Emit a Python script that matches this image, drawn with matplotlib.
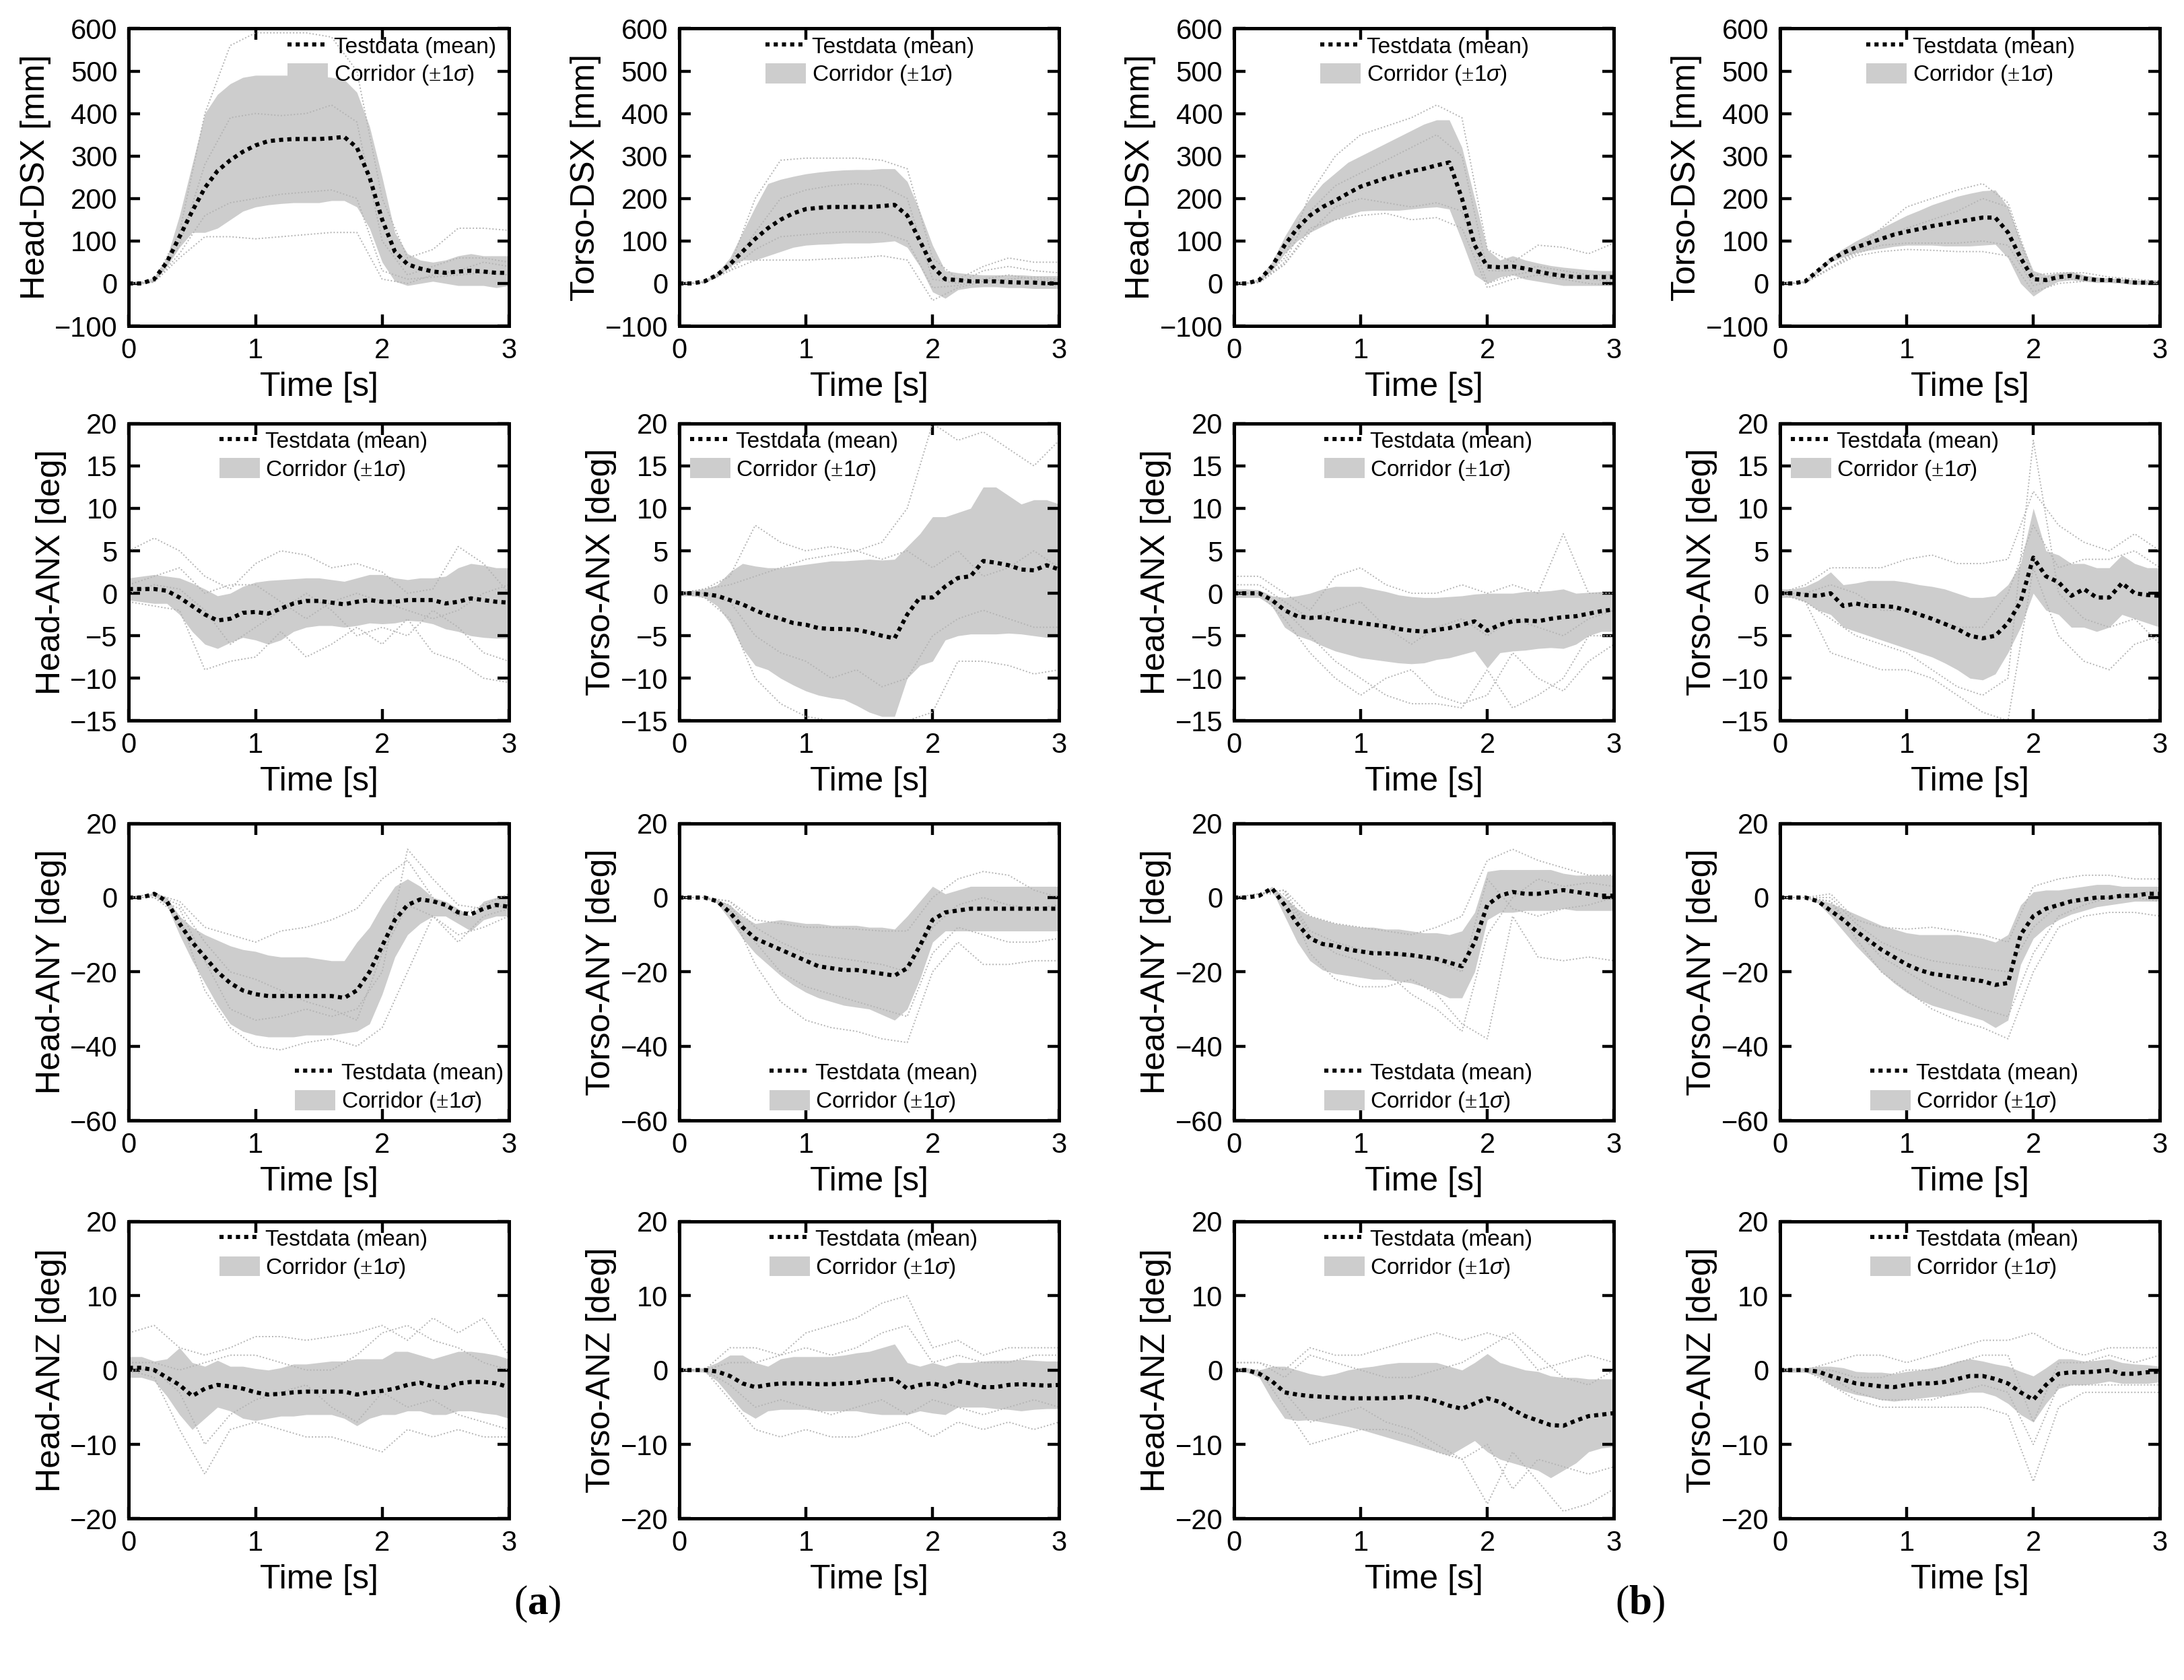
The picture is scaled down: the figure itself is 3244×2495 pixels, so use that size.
import numpy as np
import matplotlib
matplotlib.use('Agg')
import matplotlib.pyplot as plt
from matplotlib.lines import Line2D
from matplotlib.patches import Patch

plt.rcParams['font.family'] = ['Liberation Sans', 'DejaVu Sans']
plt.rcParams['mathtext.fontset'] = 'custom'
plt.rcParams['mathtext.rm'] = 'Liberation Serif'
plt.rcParams['mathtext.bf'] = 'Liberation Serif:bold'
plt.rcParams['mathtext.it'] = 'Liberation Sans:italic'

# time grids (s)
t = np.round(np.arange(0, 3.01, 0.1), 2)      # corridor / mean
t_run = np.round(np.arange(0, 3.01, 0.2), 2)  # single test runs

# ---------------- (a) Head-DSX [mm] ----------------
a_head_dsx_mean = [0, 0, 10, 50, 110, 170, 225, 265, 290, 310, 325, 335, 338, 340, 340, 340,
                   342, 345, 320, 250, 150, 75, 45, 35, 28, 25, 28, 30, 28, 25, 25]
a_head_dsx_hi = [0, 2, 15, 60, 160, 280, 400, 445, 470, 485, 490, 490, 490, 490, 490, 488,
                 485, 480, 450, 370, 250, 120, 70, 55, 50, 55, 65, 70, 65, 65, 65]
a_head_dsx_lo = [0, -2, 5, 40, 85, 120, 120, 130, 150, 170, 180, 185, 188, 190, 190, 190,
                 195, 195, 180, 130, 50, 5, -5, 0, 5, 0, -5, -5, -5, -10, -5]
a_head_dsx_runs = [[0, 5, 120, 400, 560, 590, 590, 590, 580, 500, 200, 60, 80, 130, 130, 125],
                   [0, 3, 60, 110, 110, 105, 110, 115, 120, 120, 10, 0, 20, 30, 50, 40],
                   [0, 4, 90, 280, 390, 400, 395, 400, 420, 380, 100, 20, 40, 60, 60, 50],
                   [0, 3, 70, 160, 190, 200, 210, 215, 220, 200, 30, 10, 15, 20, 25, 20]]

# ---------------- (a) Torso-DSX [mm] ----------------
a_torso_dsx_mean = [0, 0, 5, 20, 45, 75, 105, 130, 150, 165, 175, 178, 180, 180, 180, 180,
                    182, 185, 160, 100, 40, 10, 8, 5, 5, 5, 3, 2, 2, 0, 0]
a_torso_dsx_hi = [0, 1, 8, 25, 60, 120, 180, 235, 245, 252, 258, 262, 265, 267, 268, 268,
                  270, 270, 240, 170, 90, 30, 25, 22, 20, 20, 20, 20, 18, 18, 18]
a_torso_dsx_lo = [0, -1, 3, 15, 40, 55, 55, 65, 75, 85, 90, 92, 93, 95, 95, 95,
                  97, 100, 85, 40, -20, -35, -15, -10, -8, -8, -10, -10, -12, -12, -12]
a_torso_dsx_runs = [[0, 3, 40, 200, 290, 295, 295, 295, 290, 270, 60, 10, 40, 60, 50, 50],
                    [0, 2, 30, 55, 55, 55, 58, 60, 65, 55, -40, -10, 5, 10, 15, 10],
                    [0, 2, 35, 120, 200, 220, 230, 235, 230, 200, 10, 0, 30, 40, 30, 25],
                    [0, 2, 30, 80, 110, 115, 120, 122, 120, 100, -10, -5, 10, 20, 10, 5]]

# ---------------- (b) Head-DSX [mm] ----------------
b_head_dsx_mean = [0, 0, 8, 40, 90, 130, 160, 180, 195, 212, 228, 238, 248, 256, 264, 270,
                   278, 285, 200, 90, 40, 38, 40, 35, 28, 22, 18, 15, 15, 15, 15]
b_head_dsx_hi = [0, 1, 12, 50, 110, 160, 200, 235, 260, 285, 300, 315, 330, 345, 360, 375,
                 385, 385, 320, 200, 80, 55, 65, 55, 48, 42, 38, 35, 32, 30, 30]
b_head_dsx_lo = [0, -1, 5, 30, 70, 100, 120, 135, 150, 160, 170, 172, 172, 172, 175, 178,
                 180, 175, 100, 20, 0, 15, 20, 10, 5, 0, -5, -5, -5, -5, -5]
b_head_dsx_runs = [[0, 3, 60, 210, 300, 350, 370, 390, 420, 390, 80, 50, 90, 85, 70, 95],
                   [0, 2, 45, 130, 150, 160, 165, 150, 155, 130, -10, 10, 20, 10, 0, -5],
                   [0, 3, 50, 170, 230, 260, 290, 320, 350, 300, 30, 30, 40, 30, 20, 20],
                   [0, 2, 45, 120, 180, 200, 190, 180, 190, 170, 0, 20, 30, 20, 10, 5]]

# ---------------- (b) Torso-DSX [mm] ----------------
b_torso_dsx_mean = [0, 0, 5, 30, 55, 72, 85, 95, 105, 115, 122, 128, 135, 140, 145, 150,
                    155, 155, 120, 60, 10, 8, 15, 18, 12, 8, 8, 6, 2, 2, 2]
b_torso_dsx_hi = [0, 1, 8, 35, 62, 82, 100, 115, 130, 145, 160, 172, 185, 195, 205, 212,
                  218, 220, 180, 100, 30, 20, 25, 28, 20, 15, 12, 10, 8, 6, 6]
b_torso_dsx_lo = [0, -1, 3, 25, 50, 62, 72, 78, 82, 87, 90, 90, 90, 88, 88, 88,
                  90, 92, 60, 0, -30, -10, 5, 8, 5, 2, 2, 0, -3, -3, -3]
b_torso_dsx_runs = [[0, 2, 35, 80, 130, 180, 200, 220, 235, 190, 20, 25, 25, 15, 10, 5],
                    [0, 2, 35, 65, 75, 80, 78, 75, 75, 65, -20, 0, 5, 10, 5, 0],
                    [0, 2, 38, 75, 105, 130, 150, 170, 200, 180, 10, 20, 15, 10, 5, 5],
                    [0, 2, 36, 70, 90, 95, 95, 95, 100, 90, -5, 10, 10, 5, 0, 0]]

# ---------------- (a) Head-ANX [deg] ----------------
a_head_anx_mean = [0.5, 0.5, 0.5, 0.3, -0.5, -1.5, -2.5, -3.2, -3.0, -2.3, -2.2, -2.4, -1.8,
                   -1.2, -0.9, -0.9, -1.1, -1.3, -1.0, -0.8, -1.0, -1.0, -0.8, -0.8, -0.8,
                   -1.2, -1.0, -0.6, -0.8, -1.0, -1.1]
a_head_anx_hi = [1.8, 2.0, 2.2, 2.0, 1.8, 1.2, 0.5, -0.3, 0.0, 0.8, 1.3, 1.5, 1.6, 1.7, 1.8,
                 1.8, 1.6, 1.4, 1.8, 2.2, 2.2, 1.8, 1.6, 1.8, 1.8, 2.0, 3.0, 3.5, 3.3, 3.0, 3.0]
a_head_anx_lo = [-0.8, -1.0, -1.2, -1.2, -2.5, -4.5, -6.0, -6.5, -5.8, -5.2, -5.5, -6.0, -5.5,
                 -4.5, -4.0, -3.8, -3.8, -4.0, -3.8, -3.5, -3.6, -3.5, -3.2, -3.3, -3.6,
                 -4.2, -4.5, -5.0, -5.2, -5.3, -5.3]
a_head_anx_runs = [[5, 6.5, 5.0, 2.0, 0.5, 3.5, 5.0, 4.5, 3.0, 3.5, 2.5, 0.0, 0.5, 5.5, 3.5, 0.0],
                   [-1, -1.5, -2, -9, -8, -7.5, -4.5, -7.5, -6, -4, -6, -3, -7, -8, -10, -10.5],
                   [0, 1, 0.5, -2, -6, -4, -2, 0, -2, -5, -4, -5, -2, -4, -7, -8],
                   [1, 2, 3, 0, 1, 1, -1, -3, -1, 0, -1, -2, -3, -2, 0, 1]]

# ---------------- (a) Torso-ANX [deg] ----------------
a_torso_anx_mean = [0, 0, -0.1, -0.3, -0.8, -1.3, -2.0, -2.6, -3.0, -3.5, -3.7, -4.1, -4.2,
                    -4.2, -4.3, -4.6, -5.0, -5.3, -2.5, -0.5, -0.5, 0.8, 1.8, 2.0, 3.8, 3.6,
                    3.3, 2.8, 2.7, 3.3, 2.8]
a_torso_anx_hi = [0.3, 0.3, 0.5, 1.0, 2.5, 3.5, 3.2, 3.0, 3.0, 3.2, 3.4, 3.6, 3.8, 3.8, 3.9,
                  4.0, 3.9, 4.0, 5.5, 7.0, 9.0, 9.0, 9.5, 10, 12.5, 12.5, 11.5, 10.5, 11.0,
                  11.0, 10.5]
a_torso_anx_lo = [-0.3, -0.3, -0.5, -1.5, -3.5, -6.5, -8.5, -9.0, -10.0, -10.8, -11.5, -12.0,
                  -12.3, -12.5, -13.2, -14.0, -14.5, -14.5, -10.0, -8.5, -8.0, -5.5, -5.0,
                  -4.8, -4.8, -4.8, -4.7, -4.8, -5.0, -5.2, -5.2]
a_torso_anx_runs = [[0, 0.5, 2, 8, 6, 5, 5.5, 5, 6, 10, 20, 18, 19, 17, 15, 18],
                    [0, -0.5, -3, -10, -13, -14.5, -15, -15, -16, -15, -14, -8, -8, -8.5, -9.5, -9],
                    [0, 0, -1, -5, -7, -8, -10, -9, -11, -10, -5, -3, -2, -3, -4, -4],
                    [0, 0.5, 1, 2, 3, 4, 4.5, 5, 4, 5, 3, 5, 2, 3, 5, 3]]

# ---------------- (b) Head-ANX [deg] ----------------
b_head_anx_mean = [0, 0, 0, -0.8, -2.0, -2.7, -2.9, -2.8, -3.1, -3.3, -3.5, -3.7, -3.9, -4.2,
                   -4.4, -4.5, -4.3, -4.1, -3.7, -3.3, -4.4, -3.7, -3.3, -3.2, -3.3, -3.0,
                   -2.8, -2.7, -2.4, -2.1, -1.9]
b_head_anx_hi = [0.5, 0.5, 0.4, -0.3, -0.5, -0.3, 0.0, 0.5, 0.8, 0.8, 0.8, 0.5, 0.2, -0.2,
                 -0.4, -0.5, -0.5, -0.4, -0.3, -0.1, 0.0, 0.0, 0.0, 0.2, 0.2, 0.3, 0.5, 0.0,
                 0.1, 0.2, 0.0]
b_head_anx_lo = [-0.5, -0.5, -0.5, -1.5, -4.0, -5.0, -5.5, -6.2, -6.8, -7.2, -7.6, -7.8, -8.0,
                 -8.2, -8.3, -8.2, -7.8, -7.6, -7.2, -6.8, -8.8, -7.0, -6.8, -6.7, -6.5,
                 -6.4, -6.5, -6.0, -5.0, -4.5, -4.5]
b_head_anx_runs = [[2, 2, 0, -2, 2, 3, 1, 0, 0, 1, 0, 1, 0, 7, 0, 0],
                   [0, 0, -3, -7, -10, -12, -10, -9, -12, -13, -12, -7, -10, -11.5, -8, -6],
                   [0, 0, -2, -5, -8, -10, -12, -13, -13, -13.5, -9, -13.5, -12, -10, -5, -5],
                   [1, 1, -1, -3, -2, -1, -4, -6, -4, -3, -5, -3, -4, -5, -3, -2]]

# ---------------- (b) Torso-ANX [deg] ----------------
b_torso_anx_mean = [0, 0, -0.2, -0.3, 0.0, -1.5, -1.2, -1.5, -1.5, -1.6, -2.0, -2.5, -3.0,
                    -3.6, -4.2, -5.0, -5.3, -5.0, -3.5, -1.0, 4.2, 2.0, 1.3, -0.3, 0.5, -0.5,
                    -0.5, 1.2, 0.0, -0.2, -0.3]
b_torso_anx_hi = [0.5, 0.5, 0.8, 1.5, 2.5, 1.0, 1.2, 1.5, 1.5, 1.5, 1.3, 1.0, 0.8, 0.5, 0.0,
                  -0.5, -0.5, -0.3, 1.0, 3.5, 10.0, 5.0, 4.5, 3.5, 3.5, 3.0, 3.0, 4.5, 3.5,
                  3.0, 3.0]
b_torso_anx_lo = [-0.5, -0.5, -1.0, -2.0, -2.5, -4.0, -4.5, -5.0, -5.5, -6.0, -6.5, -7.0,
                  -7.5, -8.2, -9.0, -10.0, -10.2, -9.5, -7.0, -4.0, 0.0, -2.0, -2.5, -4.0,
                  -4.0, -4.5, -4.0, -2.5, -3.0, -3.5, -4.0]
b_torso_anx_runs = [[0, 1, 3, 3, 3, 4, 4.5, 3.5, 3.5, 4, 12, 8, 6, 5, 7, 5],
                    [0, -1, -7, -8, -9, -9, -10, -12, -14, -15, 3, -5, -8, -9, -6, -5],
                    [0, -1, -3, -5, -6, -7, -9, -11, -12, -10, 18, 0, -3, -4, -3, -6],
                    [0, 0, 1, 0, -2, -2, -3, -4, -4, 0, 8, 3, 4, 4, 5, 3]]

# ---------------- (a) Head-ANY [deg] ----------------
a_head_any_mean = [0, 0, 1.0, -1, -7, -12, -16, -20, -23, -25, -26, -26.5, -26.5, -26.5,
                   -26.5, -26.5, -26.5, -27, -25, -20, -13, -6, -2, -0.5, -1, -2, -4, -4.5,
                   -3, -2, -2.5]
a_head_any_hi = [0, 0, 1.5, 0, -5, -8, -10, -11.5, -13, -14, -14.5, -15.5, -16, -16, -16,
                 -16.5, -17, -17, -12, -8, -2, 3, 5, 3, 0, -1, -3, -5, -1, 0, 0]
a_head_any_lo = [0, 0, 0.5, -2, -10, -17, -23, -29, -34, -36, -37, -37.5, -37.5, -37.5, -37,
                 -37, -37, -36.5, -36, -34, -26, -16, -10, -7, -5, -5, -7, -9, -6, -5, -5]
a_head_any_runs = [[0, 1, -1, -8, -10, -12, -9, -8, -6, -3, 5, 10, 0, -5, -2, 1],
                   [0, 0, -5, -25, -35, -40, -41, -39, -38, -40, -35, -20, -5, -10, -8, -5],
                   [0, 0, -3, -17, -30, -33, -32, -30, -32, -30, -20, 13, 5, -2, -3, -2],
                   [0, 1, -2, -12, -20, -22, -25, -28, -30, -33, -15, -2, -5, -12, -5, -3]]

# ---------------- (a) Torso-ANY [deg] ----------------
a_torso_any_mean = [0, 0, 0, -1, -4, -8, -11, -12.5, -14, -15.5, -17, -18.5, -19, -19.5,
                    -19.5, -20, -20.5, -21, -19, -13, -6, -4, -3.5, -3, -3, -3, -3, -3, -3,
                    -3, -3]
a_torso_any_hi = [0, 0, 0, -0.5, -2, -5, -7, -6.5, -6, -6.5, -7, -7, -7.5, -7.5, -7.5, -8,
                  -8, -8.5, -5, -1, 3, 1, 2, 3, 3, 3, 3, 3, 3, 3, 3]
a_torso_any_lo = [0, 0, 0, -1.5, -6, -11, -15, -18, -21, -23.5, -25.5, -27, -28, -29, -29.5,
                  -30, -31.5, -33, -30, -22, -12, -9, -9, -9, -9, -9, -9, -9, -9, -9, -9]
a_torso_any_runs = [[0, 0, -1, -6, -7, -8, -8, -8.5, -9, -9, 0, 5, 7, 6, 2, 0],
                    [0, 0, -3, -18, -28, -33, -35, -36, -38, -39, -20, -12, -18, -18, -17, -17],
                    [0, 0, -2, -12, -20, -24, -26, -28, -30, -32, -15, -8, -10, -12, -12, -11],
                    [0, 0, -1, -8, -12, -15, -16, -17, -18, -20, -8, -2, 0, -2, -3, -2]]

# ---------------- (b) Head-ANY [deg] ----------------
b_head_any_mean = [0, 0, 0.5, 2.5, -2, -7, -11, -12.5, -13, -14, -14.5, -15, -15, -15.2,
                   -15.5, -16, -16.5, -17.5, -18.5, -12, -2, 0.5, 1.5, 1.0, 1.0, 1.5, 2.0,
                   1.5, 1.0, 0.5, 0.5]
b_head_any_hi = [0, 0, 0.5, 3, 0, -3, -5, -6, -7, -7.5, -8, -8, -8.5, -8.5, -9, -9.5, -9.5,
                 -10, -9, -4, 7, 7.5, 7.5, 7.5, 7.5, 7.5, 6.5, 6, 6, 6, 6]
b_head_any_lo = [0, 0, 0.5, 2, -5, -12, -17, -19.5, -20.5, -21, -21.5, -22, -22, -22.5, -23,
                 -24, -25.5, -27, -27, -20, -6, -4, -4, -3.5, -3.5, -3.5, -3, -3.5, -3.5,
                 -3.5, -3.5]
b_head_any_runs = [[0, 1, 2, -5, -7, -8, -9, -10, -8, -5, 10, 13, 10, 8, 6, 6],
                   [0, 1, 2, -15, -22, -24, -24, -22, -26, -34, -38, -5, -16, -17, -16, -17],
                   [0, 1, 1, -10, -15, -17, -20, -26, -30, -36, -10, 0, 5, 3, 4, 3],
                   [0, 1, 2, -9, -12, -14, -15, -16, -17, -20, 5, -3, -5, -3, -2, 0]]

# ---------------- (b) Torso-ANY [deg] ----------------
b_torso_any_mean = [0, 0, 0, -1, -3.5, -6, -9, -11.5, -14, -16, -18, -19.5, -20.5, -21,
                    -21.5, -22, -22.5, -23.5, -23, -10, -5, -3, -2, -1, -0.5, 0, 0, 0.5, 0.5,
                    1, 1]
b_torso_any_hi = [0, 0, 0, -0.5, -1.5, -3, -4.5, -6, -7.5, -8.5, -9.5, -10, -10, -10, -10,
                  -10.5, -11, -12, -10, -2, 1.5, 2, 2, 2.5, 3, 3.5, 3.5, 3, 3, 3, 3]
b_torso_any_lo = [0, 0, 0, -1.5, -5, -9, -13, -16.5, -20, -23, -25.5, -27.5, -29, -30, -31,
                  -32, -33, -35, -33, -18, -11, -8, -6, -4.5, -3.5, -2.5, -2, -1.5, -1, -1, -1]
b_torso_any_runs = [[0, 0, 1, -6, -8, -8.5, -8, -9, -10, -12, 3, 5, 6, 6, 5, 5],
                    [0, 0, -1, -11, -20, -25, -30, -33, -35, -38, -20, -8, -5, -4, -4, -5],
                    [0, 0, -1, -9, -16, -20, -24, -27, -30, -32, -15, -5, -2, 0, 1, 2],
                    [0, 0, 0, -7, -12, -15, -17, -18, -19, -20, -8, -2, -1, 0, 0, -1]]

# ---------------- (a) Head-ANZ [deg] ----------------
a_head_anz_mean = [0.3, 0.3, 0, -1.0, -2.0, -3.5, -2.5, -2.0, -2.2, -2.5, -3.0, -3.3, -3.2,
                   -3.0, -2.9, -2.9, -2.9, -2.9, -3.3, -3.0, -2.8, -2.5, -2.0, -1.7, -2.2,
                   -2.4, -1.8, -1.6, -1.6, -1.8, -2.3]
a_head_anz_hi = [1.8, 1.8, 1.2, 1.5, 3.0, 1.0, 0.5, 1.3, 0.5, 0.5, 0.2, 0.0, 0.3, 0.8, 0.8,
                 1.0, 1.2, 1.2, 1.5, 1.5, 1.5, 2.5, 2.5, 2.0, 1.5, 2.0, 2.5, 2.5, 2.3, 2.0, 1.5]
a_head_anz_lo = [-1.0, -1.0, -1.5, -3.5, -6.0, -8.0, -6.5, -5.0, -5.5, -6.5, -6.8, -6.5, -6.2,
                 -6.2, -6.0, -6.0, -6.0, -6.5, -7.5, -6.5, -6.0, -6.0, -5.5, -5.5, -6.0,
                 -6.0, -5.5, -5.5, -5.8, -6.0, -6.5]
a_head_anz_runs = [[5, 6, 3, 2, 3, 4.5, 4.5, 4, 4.5, 5, 6, 4, 7, 5, 7, 2],
                   [0, -1, -8, -14, -8, -7, -8, -9, -9, -10, -11, -8, -9, -8, -9, -9],
                   [0, 0, -3, -10, -6, -4, -3, -2, -5, -7, -3, -5, -4, -6, -7, -8],
                   [1, 1, 0, 1, 2, 2, 1, 0, 0, 2, 5, 6, 4, 3, 1, 0]]

# ---------------- (a) Torso-ANZ [deg] ----------------
a_torso_anz_mean = [0, 0, 0, -0.2, -0.8, -1.8, -2.3, -2.0, -1.8, -1.8, -1.8, -1.9, -1.9,
                    -1.8, -1.7, -1.4, -1.3, -1.2, -2.5, -2.0, -1.8, -2.2, -1.5, -1.8, -2.3,
                    -2.3, -2.0, -1.9, -2.0, -2.1, -2.0]
a_torso_anz_hi = [0.2, 0.2, 0.3, 1.0, 2.0, 2.0, 1.0, 0.5, 1.5, 1.8, 1.8, 1.8, 1.8, 2.0, 2.3,
                  2.5, 3.0, 3.5, 1.0, 0.5, 1.0, 0.5, 1.0, 1.0, 1.2, 1.3, 1.3, 1.4, 1.3, 1.2, 1.2]
a_torso_anz_lo = [-0.2, -0.2, -0.3, -1.5, -3.5, -5.5, -6.5, -5.5, -5.3, -5.3, -5.3, -5.5,
                  -5.5, -5.5, -5.5, -5.8, -6.0, -6.0, -6.0, -5.5, -5.8, -6.0, -5.0, -5.0,
                  -5.0, -5.2, -5.3, -5.5, -5.3, -5.2, -5.2]
a_torso_anz_runs = [[0, 0, 3, 3, 2, 5, 6, 7, 9, 10, 3, 4, 2, 3, 3, 3],
                    [0, 0, -4, -8, -9, -8, -9, -9, -8, -7, -9, -7, -8, -7, -8, -7],
                    [0, 0, -2, -5, -4, -5, -6, -5, -4, -6, -4, -5, -6, -5, -4, -5],
                    [0, 0, 1, 1, 2, 3, 2, 3, 5, 6, 1, 2, 1, 1, 2, 2]]

# ---------------- (b) Head-ANZ [deg] ----------------
b_head_anz_mean = [0, 0, -0.5, -1.5, -3.0, -3.3, -3.5, -3.6, -3.7, -3.8, -3.8, -3.8, -3.8,
                   -3.7, -3.6, -3.8, -4.2, -4.8, -5.2, -4.5, -3.8, -4.3, -5.3, -6.2, -6.8,
                   -7.4, -7.5, -6.8, -6.2, -6.0, -5.8]
b_head_anz_hi = [0.3, 0.3, 0.0, 0.5, 0.5, 0.0, -0.5, -0.8, -0.5, 0.0, 0.3, 0.5, 0.8, 1.0,
                 1.0, 1.0, 1.0, 0.5, 0.0, 1.0, 2.2, 1.0, 0.5, 0.0, -0.2, -0.8, -1.0, -1.0,
                 -1.2, -1.2, -1.2]
b_head_anz_lo = [-0.3, -0.3, -1.0, -4.0, -6.5, -6.8, -6.7, -7.0, -7.3, -7.6, -8.0, -8.5,
                 -9.0, -9.5, -10.0, -10.5, -11.0, -11.5, -10.5, -9.5, -11.0, -12.0, -12.5,
                 -13.0, -13.5, -14.5, -13.5, -12.5, -11.0, -10.5, -10.3]
b_head_anz_runs = [[1, 1, 0, 3, 2, 2, 3, 4, 5, 4, 5, 4, 0, 1, 2, 1],
                   [0, 0, -5, -10, -9, -8, -8, -9, -11, -12, -18, -11, -15, -19, -18, -16],
                   [0, 0, -3, -7, -6, -5, -7, -8, -10, -12, -10, -16, -12, -13, -14, -13],
                   [1, 1, -1, 2, 1, 0, -1, -1, 0, 1, 3, 5, 2, -1, -2, 0]]

# ---------------- (b) Torso-ANZ [deg] ----------------
b_torso_anz_mean = [0, 0, 0, -0.2, -0.8, -1.3, -1.8, -2.0, -2.2, -2.3, -2.0, -1.8, -1.8,
                    -1.6, -1.2, -0.8, -0.8, -1.2, -1.8, -3.0, -4.0, -2.0, -0.5, -0.3, -0.3,
                    -0.2, 0.0, -0.5, -0.5, -0.3, -0.2]
b_torso_anz_hi = [0.3, 0.3, 0.3, 0.5, 0.5, 0.3, -0.2, -0.3, -0.3, -0.5, -0.2, 0.0, 0.3, 0.6,
                  1.2, 1.5, 1.2, 0.8, 0.5, -0.2, -0.8, 0.3, 1.5, 1.5, 1.2, 1.3, 1.5, 1.0, 0.8,
                  0.7, 0.5]
b_torso_anz_lo = [-0.3, -0.3, -0.3, -0.8, -2.0, -2.8, -3.3, -3.6, -4.0, -4.2, -4.0, -3.8,
                  -3.6, -3.5, -3.3, -3.0, -3.0, -3.5, -4.5, -6.0, -7.0, -4.5, -2.5, -2.0,
                  -2.0, -1.8, -1.5, -1.8, -1.8, -1.8, -1.6]
b_torso_anz_runs = [[0, 0, 1, 2, 2, 1, 2, 3, 4, 4, 5, 3, 2, 3, 3, 3],
                    [0, 0, -2, -4, -5, -5, -5, -5, -5, -6, -15, -5, -3, -3, -3, -3],
                    [0, 0, -1, -3, -4, -4, -4, -3, -2, -3, -10, -2, -2, -2, -2, -2],
                    [0, 0, 0, -1, -1, 0, 0, 1, 2, 2, -7, 1, 1, 2, 1, 2]]

# y labels, limits and ticks per row
row_labels = [['Head-DSX [mm]', 'Torso-DSX [mm]'], ['Head-ANX [deg]', 'Torso-ANX [deg]'],
              ['Head-ANY [deg]', 'Torso-ANY [deg]'], ['Head-ANZ [deg]', 'Torso-ANZ [deg]']]
row_ylim = [(-100, 600), (-15, 20), (-60, 20), (-20, 20)]
row_yticks = [np.arange(-100, 601, 100), np.arange(-15, 21, 5),
              np.arange(-60, 21, 20), np.arange(-20, 21, 10)]

# panel grid: rows x columns [(a) head, (a) torso, (b) head, (b) torso]
grid = [
    [(a_head_dsx_mean, a_head_dsx_lo, a_head_dsx_hi, a_head_dsx_runs),
     (a_torso_dsx_mean, a_torso_dsx_lo, a_torso_dsx_hi, a_torso_dsx_runs),
     (b_head_dsx_mean, b_head_dsx_lo, b_head_dsx_hi, b_head_dsx_runs),
     (b_torso_dsx_mean, b_torso_dsx_lo, b_torso_dsx_hi, b_torso_dsx_runs)],
    [(a_head_anx_mean, a_head_anx_lo, a_head_anx_hi, a_head_anx_runs),
     (a_torso_anx_mean, a_torso_anx_lo, a_torso_anx_hi, a_torso_anx_runs),
     (b_head_anx_mean, b_head_anx_lo, b_head_anx_hi, b_head_anx_runs),
     (b_torso_anx_mean, b_torso_anx_lo, b_torso_anx_hi, b_torso_anx_runs)],
    [(a_head_any_mean, a_head_any_lo, a_head_any_hi, a_head_any_runs),
     (a_torso_any_mean, a_torso_any_lo, a_torso_any_hi, a_torso_any_runs),
     (b_head_any_mean, b_head_any_lo, b_head_any_hi, b_head_any_runs),
     (b_torso_any_mean, b_torso_any_lo, b_torso_any_hi, b_torso_any_runs)],
    [(a_head_anz_mean, a_head_anz_lo, a_head_anz_hi, a_head_anz_runs),
     (a_torso_anz_mean, a_torso_anz_lo, a_torso_anz_hi, a_torso_anz_runs),
     (b_head_anz_mean, b_head_anz_lo, b_head_anz_hi, b_head_anz_runs),
     (b_torso_anz_mean, b_torso_anz_lo, b_torso_anz_hi, b_torso_anz_runs)],
]

# legend anchor (axes fraction) per panel
legend_pos = [
    [(0.40, 1.0, 'upper left'), (0.21, 1.0, 'upper left'), (0.21, 1.0, 'upper left'), (0.21, 1.0, 'upper left')],
    [(0.22, 1.0, 'upper left'), (0.01, 1.0, 'upper left'), (0.22, 1.0, 'upper left'), (0.01, 1.0, 'upper left')],
    [(0.42, 0.0, 'lower left'), (0.22, 0.0, 'lower left'), (0.22, 0.0, 'lower left'), (0.22, 0.0, 'lower left')],
    [(0.22, 1.0, 'upper left'), (0.22, 1.0, 'upper left'), (0.22, 1.0, 'upper left'), (0.22, 1.0, 'upper left')],
]

col_left = [0.059, 0.311, 0.565, 0.815]
row_bottom = [0.806, 0.571, 0.333, 0.096]
ax_w, ax_h = 0.174, 0.177

band_color = '#cdcdcd'
run_color = '#b4b4b4'

fig = plt.figure(figsize=(16.22, 12.475), dpi=200)

for r in range(4):
    for c in range(4):
        mean, lo, hi, runs = grid[r][c]
        ax = fig.add_axes([col_left[c], row_bottom[r], ax_w, ax_h])
        ax.fill_between(t, lo, hi, color=band_color, lw=0, zorder=1)
        for run in runs:
            ax.plot(t_run, run, color=run_color, lw=0.7, ls=(0, (1, 1.5)), zorder=2)
        ax.plot(t, mean, color='black', lw=2.2, ls=(0, (1, 1)), zorder=3)

        ax.set_xlim(0, 3)
        ax.set_ylim(*row_ylim[r])
        ax.set_xticks([0, 1, 2, 3])
        ax.set_yticks(row_yticks[r])
        ax.tick_params(direction='in', top=True, right=True, length=6, width=1.6,
                       labelsize=15, pad=6)
        for sp in ax.spines.values():
            sp.set_linewidth(1.8)
        ax.set_xlabel('Time [s]', fontsize=18, labelpad=4)
        ax.set_ylabel(row_labels[r][c % 2], fontsize=18, labelpad=2)

        handles = [Line2D([0], [0], color='black', lw=2.2, ls=(0, (1, 1))),
                   Patch(facecolor=band_color, edgecolor='none')]
        lx, ly, loc = legend_pos[r][c]
        ax.legend(handles, ['Testdata (mean)', r'Corridor ($\pm$1$\sigma$)'],
                  loc=loc, bbox_to_anchor=(lx, ly), frameon=False, fontsize=12,
                  handlelength=1.8, handleheight=1.0, handletextpad=0.25,
                  labelspacing=0.25, borderpad=0.3, borderaxespad=0.0)

fig.text(0.246, 0.045, r'($\mathbf{a}$)', fontsize=22, family='Liberation Serif',
         ha='center', va='center')
fig.text(0.751, 0.045, r'($\mathbf{b}$)', fontsize=22, family='Liberation Serif',
         ha='center', va='center')

fig.savefig('out.png', dpi=200)
